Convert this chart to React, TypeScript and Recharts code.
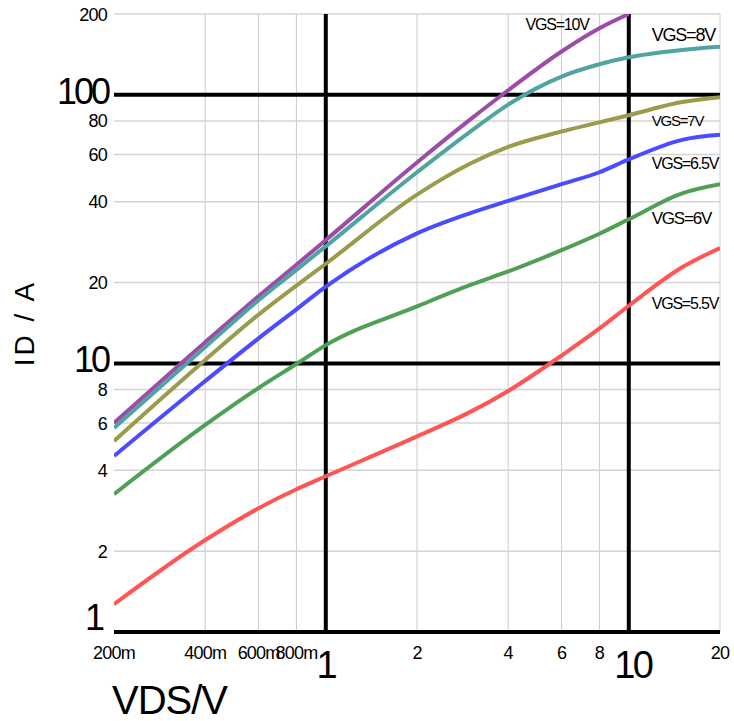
import React from 'react';
import { LineChart, Line, XAxis, YAxis, ReferenceLine, ReferenceDot } from 'recharts';

// VDS sample points (V)
const vds = [0.2, 0.4, 0.6, 0.8, 1, 2, 3, 4, 6, 8, 10, 15, 20];

// ID (A) per gate voltage
const id10V = [6.0, 12.0, 17.8, 23.3, 28.8, 56, 81, 104, 145, 177, 200, null, null];
const id8V = [5.75, 11.5, 17.2, 22.3, 27.3, 51.5, 73, 92, 117, 130, 138, 147, 151];
const id7V = [5.14, 10.3, 15.2, 19.5, 23.5, 42.5, 55.5, 64, 73, 79, 84, 94, 98];
const id65V = [4.52, 8.6, 12.4, 15.9, 19.3, 30.5, 36.3, 40.3, 46.5, 51.5, 57.5, 68, 71];
const id6V = [3.26, 5.9, 8.1, 9.95, 11.7, 16.3, 19.6, 22, 26.4, 30.4, 34.4, 43, 46.5];
const id55V = [1.27, 2.2, 2.89, 3.4, 3.8, 5.35, 6.6, 7.9, 10.7, 13.5, 16.4, 22.8, 26.9];

const xTicks = [0.2, 0.4, 0.6, 0.8, 1, 2, 4, 6, 8, 10, 20];
const yTicks = [1, 2, 4, 6, 8, 10, 20, 40, 60, 80, 100, 200];
const xGrid = [0.4, 0.6, 0.8, 2, 4, 6, 8, 20];
const yGrid = [2, 4, 6, 8, 20, 40, 60, 80, 200];
const xMajor = [1, 10];
const yMajor = [10, 100];

const FONT = '"Liberation Sans", Arial, Helvetica, sans-serif';

const toPoints = (values: (number | null)[]) => vds.map((x, i) => ({ x, y: values[i] }));

const series = [
  { name: 'VGS=10V', values: id10V, color: '#9c4ba8' },
  { name: 'VGS=8V', values: id8V, color: '#4fa3a1' },
  { name: 'VGS=7V', values: id7V, color: '#9a9b4b' },
  { name: 'VGS=6.5V', values: id65V, color: '#4b4bff' },
  { name: 'VGS=6V', values: id6V, color: '#4fa055' },
  { name: 'VGS=5.5V', values: id55V, color: '#ff5555' },
];

// curve labels, placed in data coordinates
const curveLabels = [
  { text: 'VGS=10V', x: 5.8, y: 183, anchor: 'middle', size: 16 },
  { text: 'VGS=8V', x: 11.9, y: 168, anchor: 'start', size: 18 },
  { text: 'VGS=7V', x: 11.9, y: 80, anchor: 'start', size: 15 },
  { text: 'VGS=6.5V', x: 11.9, y: 55.7, anchor: 'start', size: 16 },
  { text: 'VGS=6V', x: 11.9, y: 34.8, anchor: 'start', size: 17 },
  { text: 'VGS=5.5V', x: 11.9, y: 16.8, anchor: 'start', size: 16 },
];

const XTick = (props: any) => {
  const { x, y, payload } = props;
  const v = payload.value;
  const label = v < 1 ? `${Math.round(v * 1000)}m` : String(v);
  if (xMajor.includes(v)) {
    return (
      <text x={x + (v === 10 ? 4 : 0)} y={y + 46} textAnchor="middle" fontSize={38} letterSpacing={-2.5} fontFamily={FONT} fill="#000">
        {label}
      </text>
    );
  }
  return (
    <text x={x} y={y + 27} textAnchor="middle" fontSize={18} letterSpacing={-0.8} fontFamily={FONT} fill="#000">
      {label}
    </text>
  );
};

const YTick = (props: any) => {
  const { x, y, payload } = props;
  const v = payload.value;
  if (v === 1 || yMajor.includes(v)) {
    return (
      <text x={v === 1 ? x - 12 : x - 6} y={v === 1 ? y - 2 : y + 9} textAnchor="end" fontSize={36} letterSpacing={-3} fontFamily={FONT} fill="#000">
        {v}
      </text>
    );
  }
  return (
    <text x={x - 7} y={y + 6.5} textAnchor="end" fontSize={18} letterSpacing={-0.8} fontFamily={FONT} fill="#000">
      {v}
    </text>
  );
};

export default function App() {
  return (
    <div style={{ position: 'absolute', left: 0, top: 0, width: 734, height: 721, background: '#fff' }}>
      <LineChart width={734} height={721} margin={{ top: 14, right: 14, bottom: 0, left: 0 }}>
        <XAxis
          dataKey="x"
          type="number"
          scale="log"
          domain={[0.2, 20]}
          allowDataOverflow
          ticks={xTicks}
          interval={0}
          height={89}
          tickSize={0}
          tickMargin={0}
          tick={<XTick />}
          axisLine={{ stroke: '#000', strokeWidth: 4 }}
          tickLine={false}
        />
        <YAxis
          type="number"
          scale="log"
          domain={[1, 200]}
          allowDataOverflow
          ticks={yTicks}
          interval={0}
          width={114}
          tickSize={0}
          tickMargin={0}
          tick={<YTick />}
          axisLine={false}
          tickLine={false}
        />
        {xGrid.map((v) => (
          <ReferenceLine key={`gx${v}`} x={v} stroke="#cccccc" strokeWidth={1} />
        ))}
        {yGrid.map((v) => (
          <ReferenceLine key={`gy${v}`} y={v} stroke="#d4d4d4" strokeWidth={1.5} />
        ))}
        {xMajor.map((v) => (
          <ReferenceLine key={`mx${v}`} x={v} stroke="#000" strokeWidth={4} />
        ))}
        {yMajor.map((v) => (
          <ReferenceLine key={`my${v}`} y={v} stroke="#000" strokeWidth={4} />
        ))}
        {series.map((s) => (
          <Line
            key={s.name}
            data={toPoints(s.values)}
            dataKey="y"
            type="monotone"
            stroke={s.color}
            strokeWidth={4}
            dot={false}
            isAnimationActive={false}
          />
        ))}
        {curveLabels.map((l) => (
          <ReferenceDot
            key={l.text}
            x={l.x}
            y={l.y}
            r={0}
            shape={(p: any) => (
              <text x={p.cx} y={p.cy} dy="0.36em" textAnchor={l.anchor} fontSize={l.size} letterSpacing={-1.2} fontFamily={FONT} fill="#000">
                {l.text}
              </text>
            )}
          />
        ))}
      </LineChart>
      <div
        style={{
          position: 'absolute',
          left: 25,
          top: 323,
          transform: 'translate(-50%, -50%) rotate(-90deg)',
          fontFamily: FONT,
          fontSize: 28,
          letterSpacing: 3,
          whiteSpace: 'nowrap',
        }}
      >
        ID / A
      </div>
      <div
        style={{
          position: 'absolute',
          left: 112,
          top: 676,
          fontFamily: FONT,
          fontSize: 40,
          lineHeight: '48px',
          letterSpacing: -1,
          whiteSpace: 'nowrap',
        }}
      >
        VDS/V
      </div>
    </div>
  );
}
